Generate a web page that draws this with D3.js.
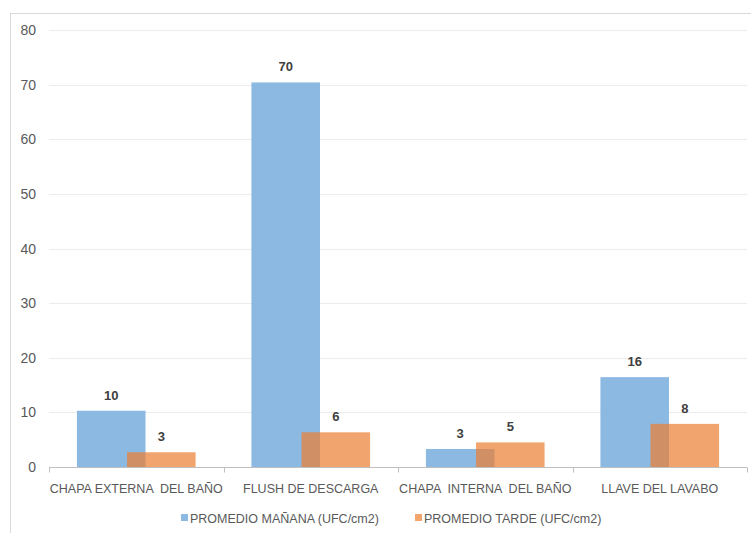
<!DOCTYPE html>
<html>
<head>
<meta charset="utf-8">
<script src="https://cdn.jsdelivr.net/npm/d3@7"></script>
<style>
  body { margin: 0; background: #fff; }
  text { font-family: "Liberation Sans", "DejaVu Sans", sans-serif; }
</style>
</head>
<body>
<div id="chart"></div>
<script>
// data
var categories = ["CHAPA EXTERNA  DEL BAÑO", "FLUSH DE DESCARGA", "CHAPA  INTERNA  DEL BAÑO", "LLAVE DEL LAVABO"];
var seriesNames = ["PROMEDIO MAÑANA (UFC/cm2)", "PROMEDIO TARDE (UFC/cm2)"];
var manana = [10.3, 70.4, 3.3, 16.45];
var tarde = [2.7, 6.35, 4.5, 7.9];
var yTicks = [0, 10, 20, 30, 40, 50, 60, 70, 80];

var width = 751, height = 533;
var margin = {top: 30, right: 4, bottom: 66, left: 49};

var svg = d3.select("#chart")
  .append("svg")
  .attr("width", width)
  .attr("height", height);

// outer chart border (only left and top visible)
svg.append("rect")
  .attr("x", 10.5).attr("y", 13.5)
  .attr("width", 800).attr("height", 600)
  .attr("fill", "none")
  .attr("stroke", "#d9d9d9");

var x = d3.scaleBand()
  .domain(categories)
  .range([margin.left, width - margin.right])
  .padding(0);

var y = d3.scaleLinear()
  .domain([0, 80])
  .range([height - margin.bottom, margin.top]);

// gridlines
svg.append("g")
  .selectAll("line")
  .data(yTicks.filter(function(d) { return d > 0; }))
  .enter()
  .append("line")
  .attr("x1", margin.left)
  .attr("x2", width - margin.right)
  .attr("y1", function(d) { return Math.round(y(d)) + 0.5; })
  .attr("y2", function(d) { return Math.round(y(d)) + 0.5; })
  .attr("stroke", "#ececec");

// y tick labels
svg.append("g")
  .selectAll("text")
  .data(yTicks)
  .enter()
  .append("text")
  .attr("x", 36)
  .attr("y", function(d) { return y(d) + 5; })
  .attr("text-anchor", "end")
  .style("font-size", "14px")
  .style("fill", "#595959")
  .text(function(d) { return d; });

var bw = x.bandwidth();
var offs = [0.16 * bw, 0.447 * bw];
var barW = 0.393 * bw;

var series = [
  {name: seriesNames[0], values: manana, color: "rgb(140,185,226)"},
  {name: seriesNames[1], values: tarde, color: "rgba(237,125,49,0.7)"}
];

series.forEach(function(s, si) {
  svg.append("g")
    .selectAll("rect")
    .data(categories)
    .enter()
    .append("rect")
    .attr("x", function(d) { return x(d) + offs[si]; })
    .attr("y", function(d, i) { return y(s.values[i]); })
    .attr("width", barW)
    .attr("height", function(d, i) { return y(0) - y(s.values[i]); })
    .attr("fill", s.color);
});

// data labels
series.forEach(function(s, si) {
  svg.append("g")
    .selectAll("text")
    .data(categories)
    .enter()
    .append("text")
    .attr("x", function(d) { return x(d) + offs[si] + barW / 2; })
    .attr("y", function(d, i) { return y(s.values[i]) - 11; })
    .attr("text-anchor", "middle")
    .style("font-size", "13px")
    .style("font-weight", "bold")
    .style("fill", "#404040")
    .text(function(d, i) { return Math.round(s.values[i]); });
});

// x axis
var xAxis = svg.append("g")
  .attr("transform", "translate(0," + (Math.round(y(0)) + 0.5) + ")");
xAxis.append("line")
  .attr("x1", margin.left).attr("x2", width - margin.right)
  .attr("stroke", "#bfbfbf");
xAxis.selectAll(".tk")
  .data(categories.concat(["end"]))
  .enter()
  .append("line")
  .attr("class", "tk")
  .attr("x1", function(d, i) { return Math.round(margin.left + i * bw) + 0.5; })
  .attr("x2", function(d, i) { return Math.round(margin.left + i * bw) + 0.5; })
  .attr("y1", 0).attr("y2", 5)
  .attr("stroke", "#bfbfbf");
xAxis.selectAll(".lbl")
  .data(categories)
  .enter()
  .append("text")
  .attr("class", "lbl")
  .attr("x", function(d) { return x(d) + bw / 2; })
  .attr("y", 25)
  .attr("text-anchor", "middle")
  .style("font-size", "12.5px")
  .style("fill", "#595959")
  .style("white-space", "pre")
  .text(function(d) { return d; });

// legend
var legX = [181, 415];
var legend = svg.append("g");
series.forEach(function(s, i) {
  legend.append("rect")
    .attr("x", legX[i]).attr("y", 514)
    .attr("width", 7).attr("height", 7)
    .attr("fill", s.color);
  legend.append("text")
    .attr("x", legX[i] + 9)
    .attr("y", 523)
    .style("font-size", "12.5px")
    .style("fill", "#595959")
    .text(s.name);
});
</script>
</body>
</html>
